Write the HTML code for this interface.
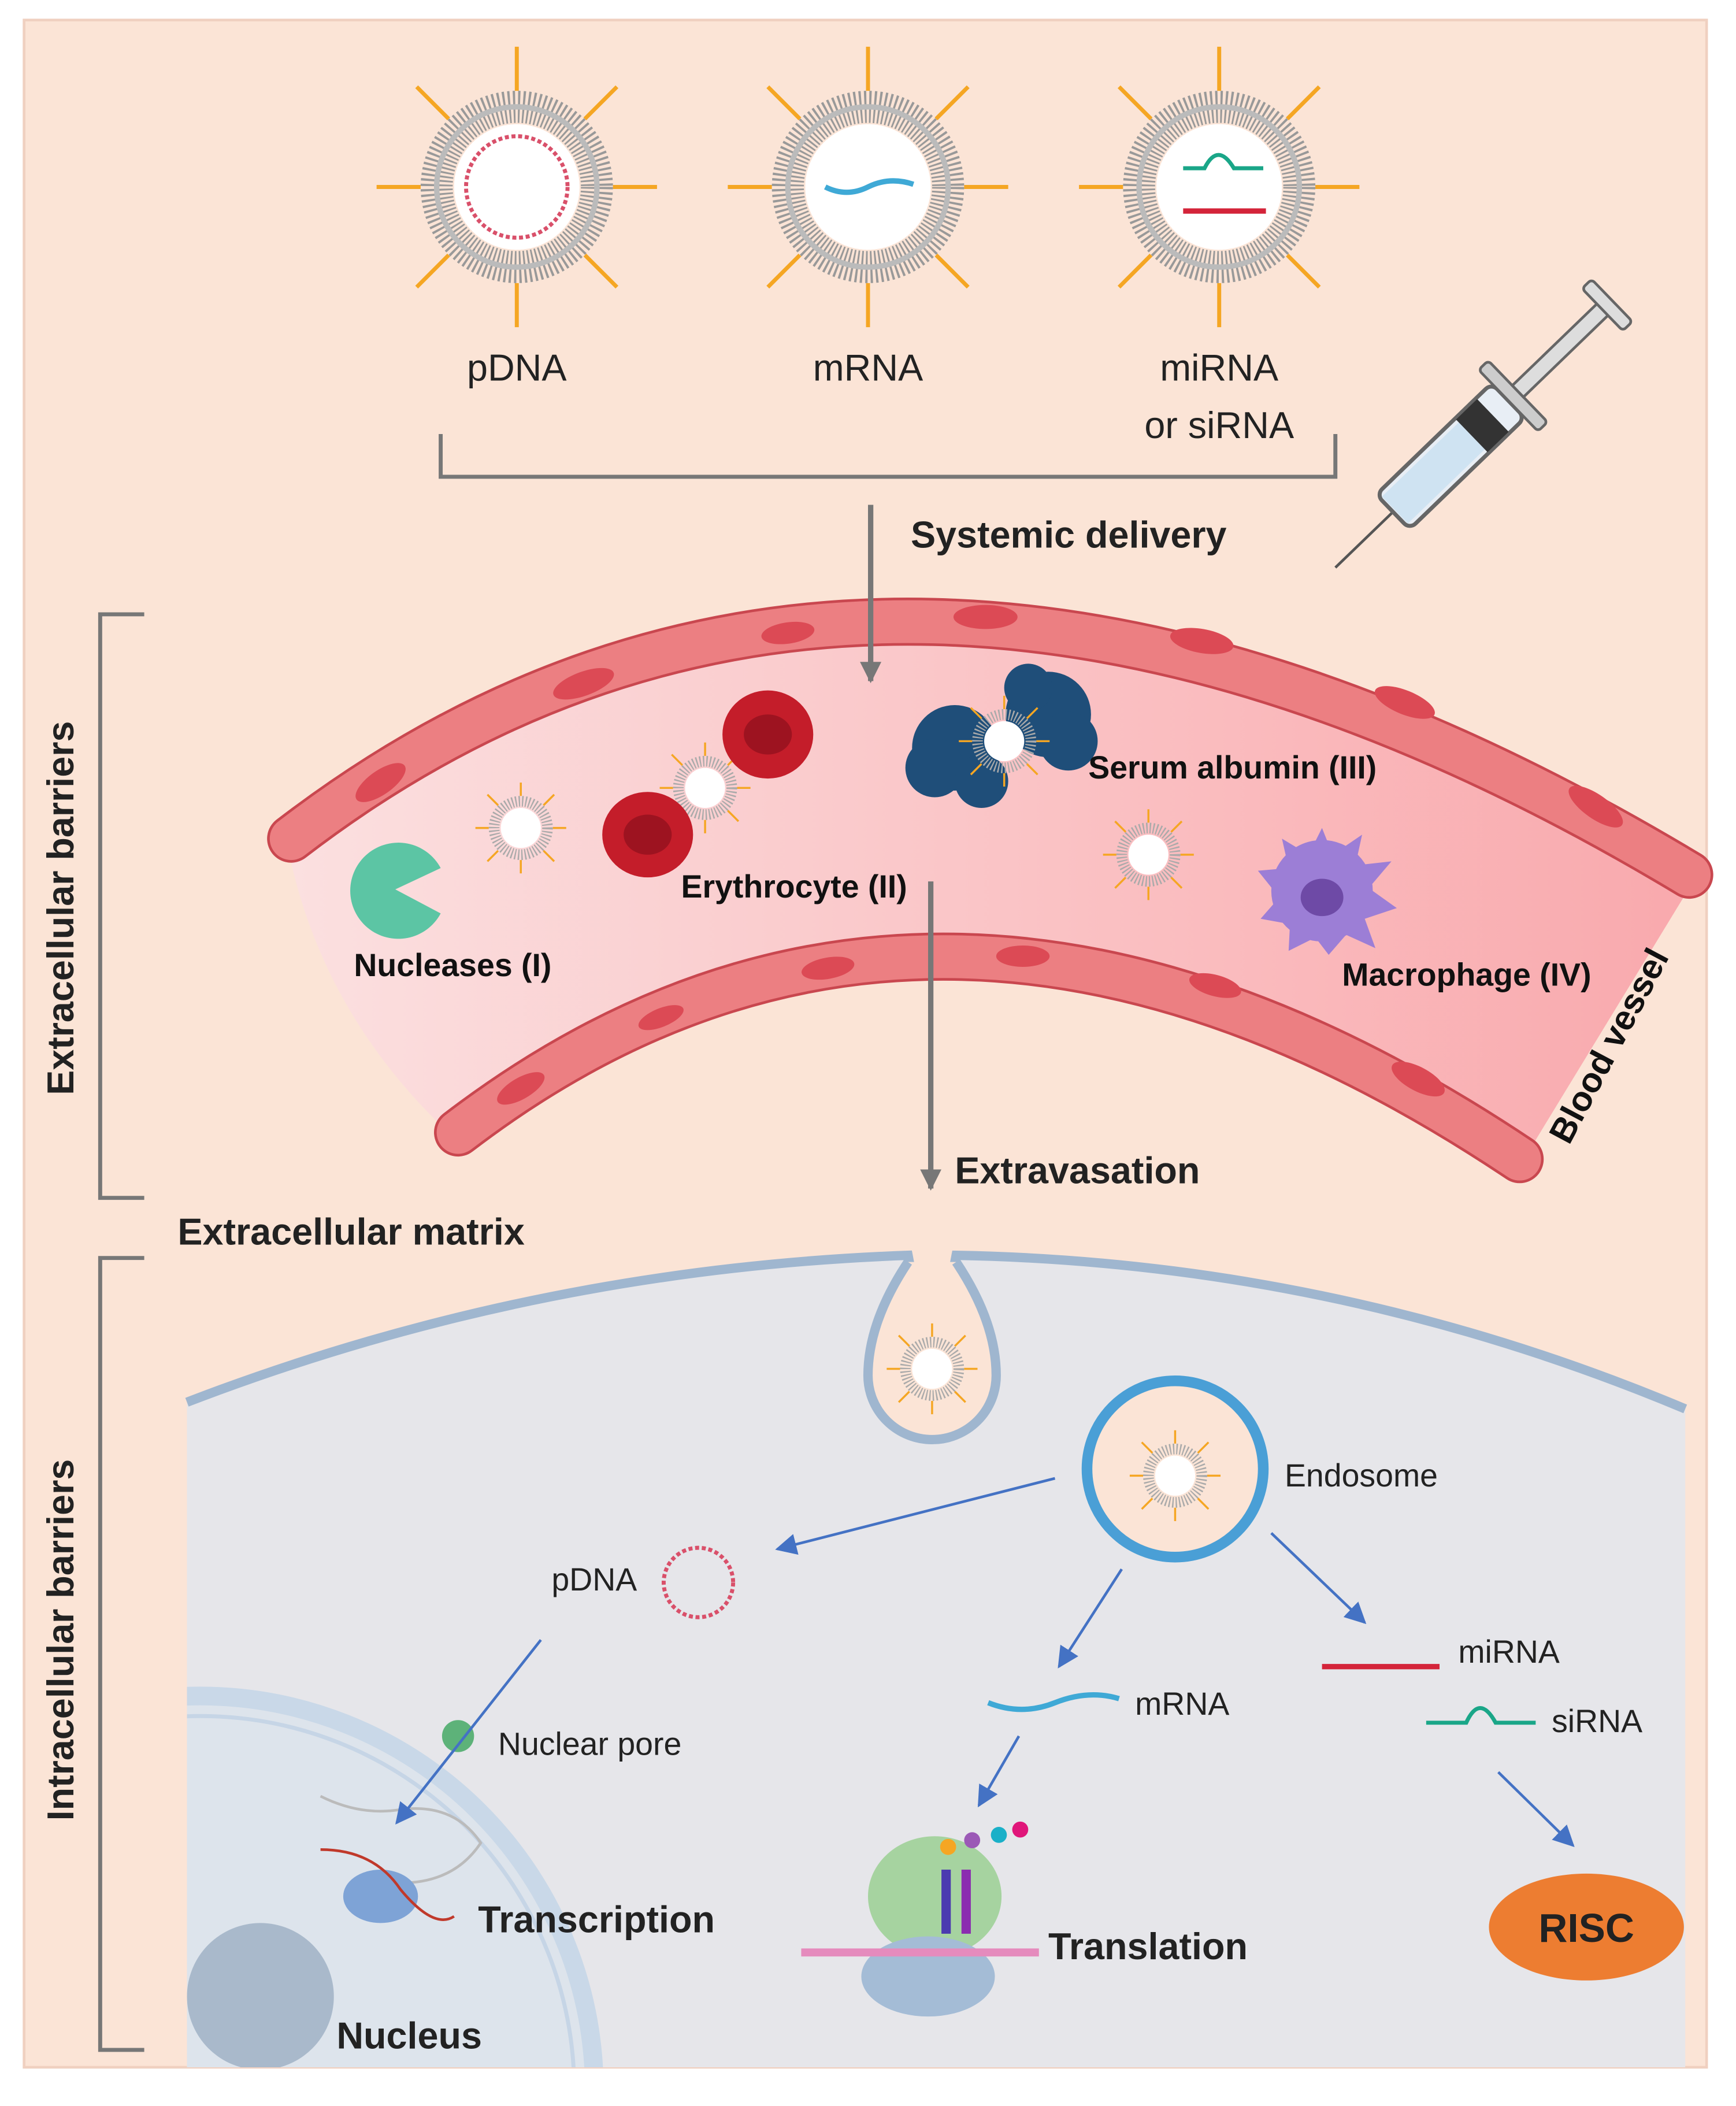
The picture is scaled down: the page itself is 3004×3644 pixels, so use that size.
<!DOCTYPE html>
<html><head><meta charset="utf-8"><style>
html,body{margin:0;padding:0;background:#fff;width:3004px;height:3644px;overflow:hidden}
svg{display:block}
text{font-family:"Liberation Sans",sans-serif}
</style></head><body>
<svg width="3004" height="3644" viewBox="0 0 1300 1577" xmlns="http://www.w3.org/2000/svg">
<defs>
<linearGradient id="vg" x1="0" x2="1" y1="0" y2="0">
<stop offset="0" stop-color="#fbe0e0"/><stop offset="1" stop-color="#f9a9ad"/>
</linearGradient>
<marker id="ab" viewBox="0 0 10 10" markerWidth="16" markerHeight="16" refX="9" refY="5" orient="auto" markerUnits="userSpaceOnUse"><path d="M0,0 L10,5 L0,10 z" fill="#4472c4"/></marker>
<marker id="ag2" viewBox="0 0 10 10" markerWidth="16" markerHeight="16" refX="9" refY="5" orient="auto" markerUnits="userSpaceOnUse"><path d="M0,0 L10,5 L0,10 z" fill="#777"/></marker>
<g id="lnp">
<g stroke="#f5a623" stroke-width="3">
<line x1="0" y1="-72" x2="0" y2="-105"/><line x1="0" y1="72" x2="0" y2="105"/>
<line x1="-72" y1="0" x2="-105" y2="0"/><line x1="72" y1="0" x2="105" y2="0"/>
<line x1="51" y1="51" x2="75" y2="75"/><line x1="-51" y1="51" x2="-75" y2="75"/>
<line x1="51" y1="-51" x2="75" y2="-75"/><line x1="-51" y1="-51" x2="-75" y2="-75"/>
</g>
<circle r="60" fill="none" stroke="#999" stroke-width="24" stroke-dasharray="1.5 2"/>
<circle r="60" fill="none" stroke="#bbb" stroke-width="4"/>
<circle r="47" fill="#fff"/>
</g>
<g id="slnp">
<g stroke="#f5a623" stroke-width="1.5">
<line x1="0" y1="-24" x2="0" y2="-34"/><line x1="0" y1="24" x2="0" y2="34"/>
<line x1="-24" y1="0" x2="-34" y2="0"/><line x1="24" y1="0" x2="34" y2="0"/>
<line x1="17" y1="17" x2="25" y2="25"/><line x1="-17" y1="17" x2="-25" y2="25"/>
<line x1="17" y1="-17" x2="25" y2="-25"/><line x1="-17" y1="-17" x2="-25" y2="-25"/>
</g>
<circle r="20" fill="none" stroke="#aaa" stroke-width="8" stroke-dasharray="1 1.5"/>
<circle r="15" fill="#fff"/>
</g>
</defs>
<rect width="1300" height="1577" fill="#fff"/>
<rect x="18" y="15" width="1260" height="1533" fill="#fbe4d6" stroke="#f0d0c0" stroke-width="2"/>

<use href="#lnp" x="387" y="140"/>
<use href="#lnp" x="650" y="140"/>
<use href="#lnp" x="913" y="140"/>
<circle cx="387" cy="140" r="38" fill="none" stroke="#d9506a" stroke-width="3" stroke-dasharray="3 2"/>
<path d="M618,140 q16,8 32,0 q16,-8 34,-2" fill="none" stroke="#3fa9d6" stroke-width="4"/>
<path d="M886,126 h16 q10,-20 22,0 h22" fill="none" stroke="#1aa688" stroke-width="3"/>
<line x1="886" y1="158" x2="948" y2="158" stroke="#d4243a" stroke-width="4"/>

<g font-size="28" fill="#222" text-anchor="middle">
<text x="387" y="285">pDNA</text>
<text x="650" y="285">mRNA</text>
<text x="913" y="285">miRNA</text>
<text x="913" y="328">or siRNA</text>
</g>
<path d="M330,325 V357 H1000 V325" fill="none" stroke="#777" stroke-width="3"/>
<text x="682" y="410" font-size="28" font-weight="bold" fill="#222">Systemic delivery</text>

<g transform="translate(1000,425) rotate(-44)">
<line x1="0" y1="0" x2="60" y2="0" stroke="#555" stroke-width="2"/>
<rect x="60" y="-18" width="120" height="36" rx="6" fill="#e8eef5" stroke="#666" stroke-width="3"/>
<rect x="62" y="-14" width="80" height="28" fill="#cfe3f2"/>
<rect x="142" y="-17" width="22" height="34" fill="#333"/>
<rect x="180" y="-32" width="10" height="64" rx="3" fill="#ccc" stroke="#666" stroke-width="2"/>
<rect x="190" y="-6" width="90" height="12" fill="#ddd" stroke="#666" stroke-width="2"/>
<rect x="278" y="-22" width="10" height="44" rx="3" fill="#ddd" stroke="#666" stroke-width="2"/>
</g>

<path d="M108,460 H75 V897 H108" fill="none" stroke="#777" stroke-width="3"/>
<path d="M108,942 H75 V1535 H108" fill="none" stroke="#777" stroke-width="3"/>
<text transform="translate(55,680) rotate(-90)" font-size="28" font-weight="bold" fill="#222" text-anchor="middle">Extracellular barriers</text>
<text transform="translate(55,1228) rotate(-90)" font-size="28" font-weight="bold" fill="#222" text-anchor="middle">Intracellular barriers</text>

<path d="M215,632 Q658,284 1268,660 L1140,870 Q700,570 340,852 Q240,760 215,632 Z" fill="url(#vg)"/>
<path d="M218,628 Q658,290 1265,655" fill="none" stroke="#c9474f" stroke-width="36" stroke-linecap="round"/>
<path d="M218,628 Q658,290 1265,655" fill="none" stroke="#ec7f82" stroke-width="32" stroke-linecap="round"/>
<path d="M343,848 Q700,575 1138,868" fill="none" stroke="#c9474f" stroke-width="36" stroke-linecap="round"/>
<path d="M343,848 Q700,575 1138,868" fill="none" stroke="#ec7f82" stroke-width="32" stroke-linecap="round"/>
<g fill="#dc4a55">
<ellipse cx="285" cy="586" rx="22" ry="9" transform="rotate(-35 285 586)"/>
<ellipse cx="437" cy="512" rx="24" ry="9" transform="rotate(-20 437 512)"/>
<ellipse cx="590" cy="474" rx="20" ry="8" transform="rotate(-8 590 474)"/>
<ellipse cx="738" cy="462" rx="24" ry="9"/>
<ellipse cx="900" cy="480" rx="24" ry="9" transform="rotate(10 900 480)"/>
<ellipse cx="1052" cy="526" rx="24" ry="9" transform="rotate(22 1052 526)"/>
<ellipse cx="1195" cy="604" rx="24" ry="9" transform="rotate(35 1195 604)"/>
<ellipse cx="390" cy="815" rx="20" ry="8" transform="rotate(-30 390 815)"/>
<ellipse cx="495" cy="762" rx="18" ry="7" transform="rotate(-22 495 762)"/>
<ellipse cx="620" cy="725" rx="20" ry="8" transform="rotate(-10 620 725)"/>
<ellipse cx="766" cy="716" rx="20" ry="8"/>
<ellipse cx="910" cy="738" rx="20" ry="8" transform="rotate(15 910 738)"/>
<ellipse cx="1062" cy="808" rx="22" ry="9" transform="rotate(28 1062 808)"/>
</g>
<line x1="652" y1="378" x2="652" y2="510" stroke="#777" stroke-width="4" marker-end="url(#ag2)"/>
<path d="M296,666 L330,650 A36,36 0 1 0 330,684 Z" fill="#5cc5a4"/>
<use href="#slnp" x="390" y="620"/>
<use href="#slnp" x="528" y="590"/>
<use href="#slnp" x="860" y="640"/>
<ellipse cx="575" cy="550" rx="34" ry="33" fill="#c41d2a"/><ellipse cx="575" cy="550" rx="18" ry="15" fill="#9d1320"/>
<ellipse cx="485" cy="625" rx="34" ry="32" fill="#c41d2a"/><ellipse cx="485" cy="625" rx="18" ry="15" fill="#9d1320"/>
<g fill="#1f4e79">
<circle cx="715" cy="560" r="32"/><circle cx="700" cy="575" r="22"/><circle cx="735" cy="585" r="20"/>
<circle cx="785" cy="535" r="32"/><circle cx="800" cy="555" r="22"/><circle cx="770" cy="515" r="18"/>
</g>
<use href="#slnp" x="752" y="555"/>
<g fill="#9c7ed6">
<circle cx="990" cy="667" r="38"/>
<path d="M990,620 L998,640 L1020,625 L1015,648 L1042,645 L1025,665 L1046,680 L1022,688 L1030,710 L1008,700 L995,715 L985,702 L965,712 L966,692 L944,688 L958,672 L942,652 L965,650 L960,628 L980,640 Z"/>
</g>
<ellipse cx="990" cy="672" rx="16" ry="14" fill="#6e4aa6"/>
<g font-size="24" font-weight="bold" fill="#111">
<text x="815" y="583">Serum albumin (III)</text>
<text x="510" y="672">Erythrocyte (II)</text>
<text x="265" y="731">Nucleases (I)</text>
<text x="1005" y="738">Macrophage (IV)</text>
<text transform="translate(1175,858) rotate(-62)" font-size="26">Blood vessel</text>
</g>
<line x1="697" y1="660" x2="697" y2="890" stroke="#777" stroke-width="4" marker-end="url(#ag2)"/>
<text x="715" y="886" font-size="28" font-weight="bold" fill="#222">Extravasation</text>
<text x="133" y="932" font-size="28" font-weight="bold" fill="#222">Extracellular matrix</text>

<path d="M140,1050 Q400,950 680,940 Q690,990 680,1030 A28,28 0 0 0 716,1030 Q706,990 716,940 Q1000,945 1262,1055 V1548 H140 Z" fill="#e6e6ea"/>
<path d="M140,1050 Q400,950 680,940 Q690,990 680,1030 A28,28 0 0 0 716,1030 Q706,990 716,940 Q1000,945 1262,1055" fill="none" stroke="#9fb6cf" stroke-width="7"/>
<path d="M680,945 Q650,990 650,1030 A48,48 0 0 0 746,1030 Q746,990 716,945" fill="#fbe4d6" stroke="#9fb6cf" stroke-width="7"/>
<use href="#slnp" x="698" y="1025"/>
<circle cx="880" cy="1100" r="66" fill="#fbe4d6" stroke="#4a9fd6" stroke-width="8"/>
<use href="#slnp" x="880" y="1105"/>
<text x="962" y="1113" font-size="24" fill="#222">Endosome</text>

<clipPath id="nc"><rect x="140" y="1200" width="500" height="348"/></clipPath>
<g clip-path="url(#nc)">
<circle cx="150" cy="1565" r="295" fill="#dde4ec" stroke="#c9d8e8" stroke-width="14"/>
<circle cx="150" cy="1565" r="280" fill="none" stroke="#b8cce2" stroke-width="3" opacity=".6"/>
<circle cx="195" cy="1495" r="55" fill="#a9b9cb"/>
</g>
<path d="M240,1345 q30,15 60,10 q40,-5 60,25 q-20,30 -60,30" fill="none" stroke="#bbb" stroke-width="2"/>
<ellipse cx="285" cy="1420" rx="28" ry="20" fill="#7ea3d6"/>
<path d="M240,1385 q40,0 60,30 q25,30 40,20" fill="none" stroke="#c0392b" stroke-width="2"/>
<circle cx="343" cy="1300" r="12" fill="#3ba55d" opacity=".8"/>

<circle cx="523" cy="1185" r="26" fill="none" stroke="#d9506a" stroke-width="3" stroke-dasharray="3 2"/>
<text x="413" y="1191" font-size="24" fill="#222">pDNA</text>
<text x="373" y="1314" font-size="24" fill="#222">Nuclear pore</text>
<text x="358" y="1447" font-size="28" font-weight="bold" fill="#222">Transcription</text>
<text x="252" y="1534" font-size="28" font-weight="bold" fill="#222">Nucleus</text>

<path d="M740,1275 q25,10 50,0 q25,-10 48,-3" fill="none" stroke="#3fa9d6" stroke-width="4"/>
<text x="850" y="1284" font-size="24" fill="#222">mRNA</text>
<line x1="990" y1="1248" x2="1078" y2="1248" stroke="#d4243a" stroke-width="4"/>
<text x="1092" y="1245" font-size="24" fill="#222">miRNA</text>
<path d="M1068,1290 h30 q10,-22 22,0 h30" fill="none" stroke="#1aa688" stroke-width="3"/>
<text x="1162" y="1297" font-size="24" fill="#222">siRNA</text>

<ellipse cx="700" cy="1420" rx="50" ry="45" fill="#a6d3a0"/>
<ellipse cx="695" cy="1480" rx="50" ry="30" fill="#a4bcd6"/>
<line x1="600" y1="1462" x2="778" y2="1462" stroke="#e58bbd" stroke-width="6"/>
<rect x="705" y="1400" width="7" height="48" fill="#4b3ab0"/><rect x="720" y="1400" width="7" height="48" fill="#8b2bb0"/>
<circle cx="710" cy="1383" r="6" fill="#f5a623"/><circle cx="728" cy="1378" r="6" fill="#9b59b6"/><circle cx="748" cy="1374" r="6" fill="#1ab0c8"/><circle cx="764" cy="1370" r="6" fill="#e0167a"/>
<text x="785" y="1467" font-size="28" font-weight="bold" fill="#222">Translation</text>

<ellipse cx="1188" cy="1443" rx="73" ry="40" fill="#ed7d31"/>
<text x="1188" y="1454" font-size="30" font-weight="bold" fill="#222" text-anchor="middle">RISC</text>

<g stroke="#4472c4" stroke-width="2" fill="none">
<line x1="790" y1="1107" x2="582" y2="1160" marker-end="url(#ab)"/>
<line x1="840" y1="1175" x2="793" y2="1248" marker-end="url(#ab)"/>
<line x1="952" y1="1148" x2="1022" y2="1215" marker-end="url(#ab)"/>
<line x1="405" y1="1228" x2="297" y2="1365" marker-end="url(#ab)"/>
<line x1="763" y1="1300" x2="733" y2="1352" marker-end="url(#ab)"/>
<line x1="1122" y1="1327" x2="1178" y2="1382" marker-end="url(#ab)"/>
</g>
</svg>
</body></html>
